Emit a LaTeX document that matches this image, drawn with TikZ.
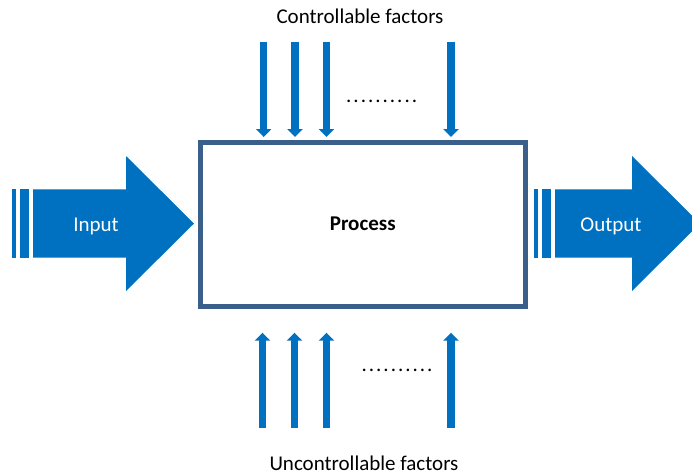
\documentclass[tikz,border=0pt]{standalone}
\usepackage{fontspec}
\setmainfont{Carlito}
\usetikzlibrary{arrows.meta}
\definecolor{flowblue}{RGB}{0,112,192}
\definecolor{frameblue}{RGB}{58,95,139}
\newcommand{\factordots}{.\kern2pt.\kern2pt.\kern2pt.\kern2pt.\kern2pt.\kern2pt.\kern2pt.\kern2pt.\kern2pt.}
\begin{document}
\begin{tikzpicture}[x=1pt,y=-1pt,
  lbl/.style={font=\fontsize{21}{25}\selectfont, inner sep=0pt},
  factor/.style={line width=7.5pt, draw=flowblue, -{Triangle[width=15pt,length=8pt]}},
  bigarrow/.style={fill=flowblue, draw=none}]
\clip (0,0) rectangle (692,475);
\fill[white] (0,0) rectangle (692,475);

% process block
\node[draw=frameblue, line width=5pt, minimum width=324.5pt, minimum height=164pt,
      inner sep=0pt, font=\fontsize{21}{25}\selectfont\bfseries] (proc) at (362.75,224) {Process};

% input arrow with its two stripes
\fill[bigarrow] (12,189.3) rectangle (16,257.7);
\fill[bigarrow] (20,189.3) rectangle (29,257.7);
\fill[bigarrow] (33,189.3) -- (126,189.3) -- (126,156) -- (194,223.5)
  -- (126,291) -- (126,257.7) -- (33,257.7) -- cycle;
\node[lbl, anchor=base, text=white] (inp) at (96,231) {Input};

% output arrow with its two stripes
\fill[bigarrow] (534,189.3) rectangle (538.3,257.7);
\fill[bigarrow] (542.3,189.3) rectangle (551,257.7);
\fill[bigarrow] (555,189.3) -- (632,189.3) -- (632,156) -- (700,223.5)
  -- (632,291) -- (632,257.7) -- (555,257.7) -- cycle;
\node[lbl, anchor=base, text=white] (outp) at (611,231) {Output};

% controllable factors (from above)
\foreach \i/\x in {1/263.7,2/295,3/326.5,4/451}{
  \coordinate (ctop\i) at (\x,41.7);
  \coordinate (cend\i) at (\x,137);
  \draw[factor] (ctop\i) -- (cend\i);
}
\node[lbl, anchor=base west] (cdots) at (346,102.3) {\factordots};
\node[lbl, anchor=base] (ctrl) at (360,23.3) {Controllable factors};

% uncontrollable factors (from below)
\foreach \i/\x in {1/262.5,2/294.5,3/326.5,4/451}{
  \coordinate (utop\i) at (\x,428);
  \coordinate (uend\i) at (\x,332.7);
  \draw[factor] (utop\i) -- (uend\i);
}
\node[lbl, anchor=base west] (udots) at (361.4,371.3) {\factordots};
\node[lbl, anchor=base] (unctrl) at (364,470) {Uncontrollable factors};
\end{tikzpicture}
\end{document}
